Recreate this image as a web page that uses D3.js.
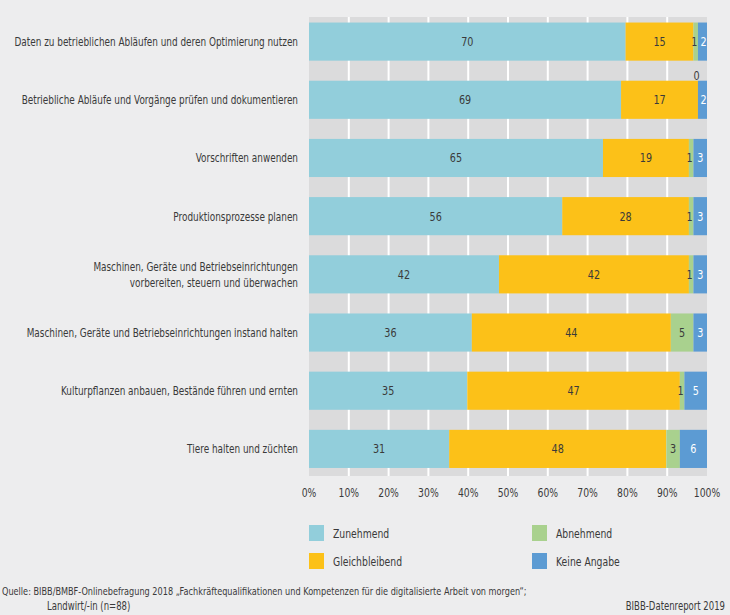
<!DOCTYPE html>
<html><head><meta charset="utf-8">
<script src="https://cdn.jsdelivr.net/npm/d3@7"></script>
<style>
html,body{margin:0;padding:0;background:#ededee;}
svg{display:block;font-family:"DejaVu Sans",sans-serif;}
</style></head>
<body><svg id="c" width="730" height="615"></svg>
<script>
const categories = [
  ["Daten zu betrieblichen Abläufen und deren Optimierung nutzen"],
  ["Betriebliche Abläufe und Vorgänge prüfen und dokumentieren"],
  ["Vorschriften anwenden"],
  ["Produktionsprozesse planen"],
  ["Maschinen, Geräte und Betriebseinrichtungen", "vorbereiten, steuern und überwachen"],
  ["Maschinen, Geräte und Betriebseinrichtungen instand halten"],
  ["Kulturpflanzen anbauen, Bestände führen und ernten"],
  ["Tiere halten und züchten"]
];
const seriesNames = ["Zunehmend", "Gleichbleibend", "Abnehmend", "Keine Angabe"];
const zunehmend     = [70, 69, 65, 56, 42, 36, 35, 31];
const gleichbleibend = [15, 17, 19, 28, 42, 44, 47, 48];
const abnehmend     = [1, 0, 1, 1, 1, 5, 1, 3];
const keineAngabe   = [2, 2, 3, 3, 3, 3, 5, 6];
const total = 88;
const tickLabels = ["0%","10%","20%","30%","40%","50%","60%","70%","80%","90%","100%"];
const colors = ["#92cedb", "#fcc118", "#a9d18e", "#5c9bd3"];
const labelColors = ["#3a3a3a", "#3a3a3a", "#3a3a3a", "#fff"];
const textColor = "#3a3a3a";

const svg = d3.select("#c");
const plot = {left: 309, right: 707, top: 17, bottom: 476};
const x = d3.scaleLinear().domain([0, 1]).range([plot.left, plot.right]);
const y = d3.scaleBand().domain(d3.range(categories.length))
  .range([12.5, 478]).paddingInner(20/58).paddingOuter(10/58);

// condensing factor: measure DejaVu width vs. reference condensed face
const probe = svg.append("text").attr("font-size", 12).text(categories[0][0]);
const SX = 284 / probe.node().getComputedTextLength();
probe.remove();

function ctext(g, px, py, anchor, size, fill, str) {
  return g.append("text")
    .attr("transform", `translate(${px},${py}) scale(${SX},1)`)
    .attr("text-anchor", anchor).attr("font-size", size).attr("fill", fill).text(str);
}

svg.append("rect").attr("x", plot.left).attr("y", plot.top)
  .attr("width", plot.right - plot.left).attr("height", plot.bottom - plot.top)
  .attr("fill", "#dbdbdc");

svg.append("g").selectAll("line").data(d3.range(1, 10).map(d => d / 10)).join("line")
  .attr("x1", d => x(d)).attr("x2", d => x(d))
  .attr("y1", plot.top).attr("y2", plot.bottom)
  .attr("stroke", "#fff").attr("stroke-width", 2);

const rows = categories.map((c, i) => [zunehmend[i], gleichbleibend[i], abnehmend[i], keineAngabe[i]]);
const segs = [];
rows.forEach((r, i) => {
  let cum = 0;
  r.forEach((v, s) => {
    segs.push({i, s, v, x0: cum / total, x1: (cum + v) / total});
    cum += v;
  });
});

svg.append("g").selectAll("rect").data(segs).join("rect")
  .attr("x", d => x(d.x0)).attr("width", d => x(d.x1) - x(d.x0))
  .attr("y", d => y(d.i)).attr("height", y.bandwidth())
  .attr("fill", d => colors[d.s]);

const vg = svg.append("g");
segs.forEach(d => {
  const cx = (x(d.x0) + x(d.x1)) / 2 + (d.s === 2 && d.v < 3 ? -1.5 : 0) + (d.s === 3 && d.v < 3 ? 1 : 0);
  const cy = d.v === 0 ? y(d.i) - 0.5 : y(d.i) + y.bandwidth() / 2 + 4.5;
  ctext(vg, cx, cy, "middle", 13, labelColors[d.s], d.v);
});

const cg = svg.append("g");
categories.forEach((lines, i) => {
  lines.forEach((ln, j) => {
    const cy = y(i) + y.bandwidth() / 2 + 4.5 - (lines.length - 1) * 8 + j * 16;
    ctext(cg, 298, cy, "end", 12, textColor, ln);
  });
});

const tg = svg.append("g");
tickLabels.forEach((t, i) => ctext(tg, x(i / 10), 497, "middle", 12.5, textColor, t));

const legendPos = [[309, 525], [309, 553], [532, 525], [532, 553]];
const lg = svg.append("g");
seriesNames.forEach((n, i) => {
  lg.append("rect").attr("x", legendPos[i][0]).attr("y", legendPos[i][1])
    .attr("width", 15).attr("height", 16).attr("fill", colors[i]);
  ctext(lg, legendPos[i][0] + 24, legendPos[i][1] + 12.5, "start", 12.5, textColor, n);
});

const fg = svg.append("g");
ctext(fg, 2, 595, "start", 11, textColor,
  "Quelle: BIBB/BMBF-Onlinebefragung 2018 „Fachkräftequalifikationen und Kompetenzen für die digitalisierte Arbeit von morgen“;");
ctext(fg, 47, 610, "start", 11.5, textColor, "Landwirt/-in (n=88)");
ctext(fg, 725, 610, "end", 11.5, textColor, "BIBB-Datenreport 2019");
</script></body></html>
